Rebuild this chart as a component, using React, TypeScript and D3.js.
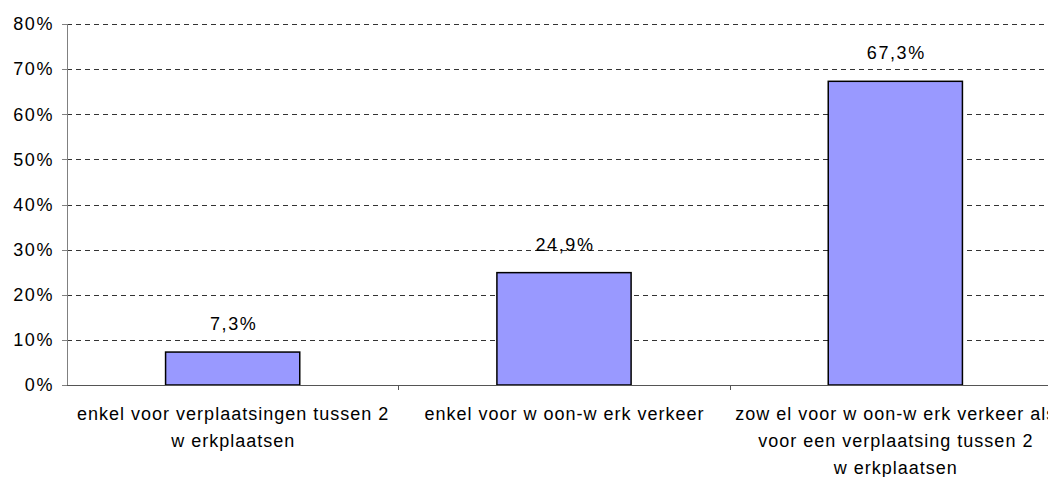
import React from "react";
import * as d3 from "d3";

const categories: string[][] = [
  ["enkel voor verplaatsingen tussen 2", "w erkplaatsen"],
  ["enkel voor w oon-w erk verkeer"],
  ["zow el voor w oon-w erk verkeer als", "voor een verplaatsing tussen 2", "w erkplaatsen"],
];
const values: number[] = [7.3, 24.9, 67.3];
const valueLabels: string[] = ["7,3%", "24,9%", "67,3%"];
const yTicks: number[] = [0, 10, 20, 30, 40, 50, 60, 70, 80];

const W = 1048;
const H = 477;
const left = 67;
const right = 1061;
const top = 24;
const bottom = 385;
const FONT = "'Liberation Sans', Arial, sans-serif";

export default function App() {
  const y = d3.scaleLinear().domain([0, 80]).range([bottom, top]);
  const x = d3
    .scaleBand<number>()
    .domain(values.map((_, i) => i))
    .range([left, right])
    .padding(0);
  const bw = x.bandwidth() * 0.405;

  return (
    <svg
      width={W}
      height={H}
      style={{ position: "absolute", left: 0, top: 0, background: "#fff" }}
      fontFamily={FONT}
    >
      {yTicks
        .filter((t) => t > 0)
        .map((t) => (
          <line
            key={"g" + t}
            x1={left}
            x2={right}
            y1={Math.round(y(t)) + 0.5}
            y2={Math.round(y(t)) + 0.5}
            stroke="#333"
            strokeDasharray="5,4"
            strokeWidth={1}
          />
        ))}
      <line x1={left + 0.5} x2={left + 0.5} y1={top} y2={bottom} stroke="#808080" />
      {yTicks.map((t) => (
        <g key={"t" + t}>
          <line
            x1={left - 5}
            x2={left}
            y1={Math.round(y(t)) + 0.5}
            y2={Math.round(y(t)) + 0.5}
            stroke="#808080"
          />
          <text
            x={54}
            y={y(t)}
            dy="0.35em"
            textAnchor="end"
            fontSize={18}
            letterSpacing={1.6}
            fill="#000"
          >
            {t}%
          </text>
        </g>
      ))}
      {values.map((v, i) => {
        const cx = (x(i) as number) + x.bandwidth() / 2;
        return (
          <g key={"b" + i}>
            <rect
              x={cx - bw / 2}
              y={y(v)}
              width={bw}
              height={bottom - y(v)}
              fill="#9999FF"
              stroke="#000"
              strokeWidth={1.5}
            />
            <text
              x={cx + 1}
              y={y(v) - 22}
              textAnchor="middle"
              fontSize={18}
              letterSpacing={1.6}
              fill="#000"
            >
              {valueLabels[i]}
            </text>
          </g>
        );
      })}
      <line x1={left} x2={right} y1={bottom + 0.5} y2={bottom + 0.5} stroke="#555" />
      {[1, 2].map((i) => (
        <line
          key={"xt" + i}
          x1={Math.round(x(i) as number) + 0.5}
          x2={Math.round(x(i) as number) + 0.5}
          y1={bottom}
          y2={bottom + 5}
          stroke="#555"
        />
      ))}
      {categories.map((lines, i) => {
        const cx = (x(i) as number) + x.bandwidth() / 2;
        return (
          <text
            key={"c" + i}
            textAnchor="middle"
            fontSize={18}
            letterSpacing={1}
            fill="#000"
          >
            {lines.map((l, j) => (
              <tspan key={j} x={cx + 0.5} y={420 + j * 27}>
                {l}
              </tspan>
            ))}
          </text>
        );
      })}
    </svg>
  );
}
